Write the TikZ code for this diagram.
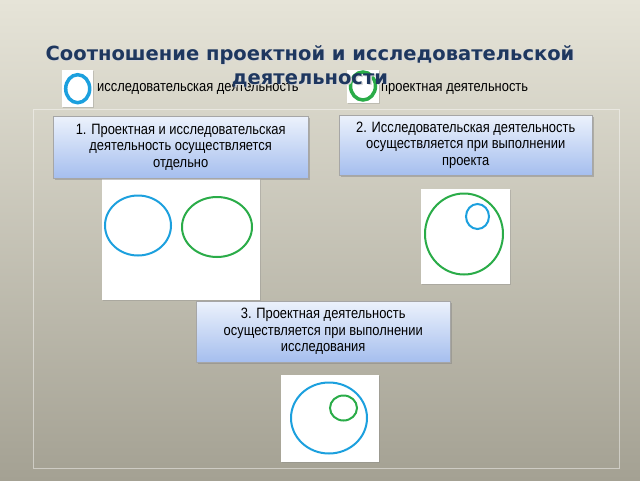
\documentclass[tikz,border=0pt]{standalone}
\usepackage{fontspec}
\setmainfont{Liberation Sans}
\newfontfamily\narrowfont[FakeStretch=0.86]{Liberation Sans}
\newfontfamily\titlefont{DejaVu Sans}
\usepackage{tikz}
\usetikzlibrary{positioning, shadows}
\definecolor{bgtop}{RGB}{230,228,216}
\definecolor{bgbot}{RGB}{164,161,147}
\definecolor{titleblue}{RGB}{30,55,95}
\definecolor{resblue}{RGB}{28,160,222}
\definecolor{projgreen}{RGB}{42,172,72}
\definecolor{boxtop}{RGB}{236,242,252}
\definecolor{boxbot}{RGB}{165,190,238}

\begin{document}
\begin{tikzpicture}[
		x=1pt, y=-1pt,
		casebox/.style={draw=gray!70, top color=boxtop, bottom color=boxbot, anchor=north west,
			minimum width=254pt, minimum height=61pt, align=center, inner sep=2pt,
			font=\narrowfont\fontsize{15}{16.5}\selectfont,
			drop shadow={shadow xshift=1.5pt, shadow yshift=-2pt, opacity=0.45}},
		pic/.style={fill=white, anchor=north west, inner sep=0pt,
			drop shadow={shadow xshift=1pt, shadow yshift=-1pt, opacity=0.3}},
		legend/.style={anchor=west, inner sep=0pt, font=\narrowfont\fontsize{15}{16}\selectfont},
		heading/.style={align=center, font=\titlefont\bfseries\fontsize{19.5}{24}\selectfont},
		res/.style={draw=resblue, line width=2pt},
		proj/.style={draw=projgreen, line width=2pt}
		]

		% Background and frame
		\shade[top color=bgtop, bottom color=bgbot] (0,0) rectangle (640,480);
		\draw[white, opacity=0.45, line width=1pt] (33,109) rectangle (619,468);

		% Legend
		\node[pic, minimum width=31pt, minimum height=37pt] (legres) at (62,70) {};
		\draw[res, line width=3.5pt] (legres.center) ellipse (12pt and 14pt);
		\node[legend] (legrestext) at (97,89) {исследовательская деятельность};
		\node[pic, minimum width=32pt, minimum height=33pt] (legproj) at (347,70) {};
		\draw[proj, line width=3.5pt] (363,86) ellipse (12.5pt and 14pt);
		\node[legend] (legprojtext) at (381,89) {проектная деятельность};

		% Title
		\node[heading, text=white!70!gray] at (311.5,67.5)
			{Соотношение проектной и исследовательской\\деятельности};
		\node[heading, text=titleblue] (title) at (310,66)
			{Соотношение проектной и исследовательской\\деятельности};

		% Case 1: separately
		\node[pic, minimum width=158pt, minimum height=121pt] (pic1) at (102,179) {};
		\draw[res] (138,225.5) ellipse (33pt and 30pt);
		\draw[proj] (217,227) ellipse (35pt and 30pt);
		\node[casebox, minimum width=255pt, minimum height=62pt] (case1) at (53,116)
			{1. Проектная и исследовательская\\деятельность осуществляется\\отдельно};

		% Case 2: research inside project
		\node[casebox, minimum width=253pt, minimum height=60pt] (case2) at (339,115)
			{2. Исследовательская деятельность\\осуществляется при выполнении\\проекта};
		\node[pic, minimum width=89pt, minimum height=95pt] (pic2) at (421,189) {};
		\draw[proj] (464,234) ellipse (39pt and 40.5pt);
		\draw[res] (477.5,216.5) ellipse (11.5pt and 12.5pt);

		% Case 3: project inside research
		\node[casebox] (case3) at (196,301)
			{3. Проектная деятельность\\осуществляется при выполнении\\исследования};
		\node[pic, minimum width=98pt, minimum height=87pt] (pic3) at (281,375) {};
		\draw[res] (329,418) ellipse (38pt and 35.5pt);
		\draw[proj] (343.5,408) ellipse (13.5pt and 12.5pt);

	\end{tikzpicture}
\end{document}
